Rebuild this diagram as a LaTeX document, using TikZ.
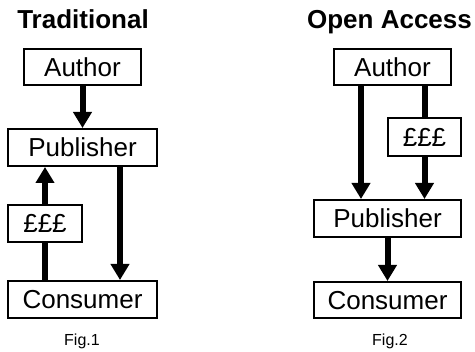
\documentclass[tikz,border=0pt]{standalone}
\usepackage{fontspec}
\setmainfont{Liberation Sans}
\usetikzlibrary{arrows.meta}
\tikzset{
  box/.style={draw=black, line width=2pt, inner sep=0pt, font=\fontsize{26}{30}\selectfont,
    text height=18.6pt, text depth=0pt},
  flow/.style={line width=6pt, -{Triangle[width=18pt,length=16pt]}},
  link/.style={line width=6pt},
  title/.style={font=\bfseries\fontsize{26}{30}\selectfont, anchor=base, inner sep=0pt},
  caption/.style={font=\fontsize{16}{19}\selectfont, anchor=base, inner sep=0pt}
}
\begin{document}
\begin{tikzpicture}[x=1pt,y=-1pt]
\useasboundingbox (0,0) rectangle (475,352);
% Traditional
\node[title] (t1) at (83,29) {Traditional};
\node[box, minimum width=117pt, minimum height=36pt] (auth1) at (82.5,67) {Author};
\node[box, minimum width=149pt, minimum height=37pt] (pub1) at (82.5,147.5) {Publisher};
\node[box, minimum width=74pt, minimum height=37pt] (pay1) at (45,223.5) {£££};
\node[box, minimum width=149pt, minimum height=37pt] (con1) at (82.5,299.5) {Consumer};
\node[caption] (f1) at (82,346) {Fig.1};
\draw[flow] (auth1.south) -- (pub1.north);
\draw[flow] (pay1.north) -- (pay1.north |- pub1.south);
\draw[link] (pay1.south |- con1.north) -- (pay1.south);
\draw[flow] ([xshift=37.5pt]pub1.south) -- ([xshift=37.5pt]con1.north);
% Open Access
\node[title] (t2) at (389.5,29) {Open Access};
\node[box, minimum width=117pt, minimum height=36pt] (auth2) at (392.5,67) {Author};
\node[box, minimum width=73pt, minimum height=38pt] (pay2) at (424.5,137) {£££};
\node[box, minimum width=147pt, minimum height=37pt] (pub2) at (387.5,218.5) {Publisher};
\node[box, minimum width=147pt, minimum height=36pt] (con2) at (387.5,300) {Consumer};
\node[caption] (f2) at (390,346) {Fig.2};
\draw[flow] ([xshift=-31.5pt]auth2.south) -- ([xshift=-26.5pt]pub2.north);
\draw[link] (pay2.north |- auth2.south) -- (pay2.north);
\draw[flow] (pay2.south) -- (pay2.south |- pub2.north);
\draw[flow] (pub2.south) -- (con2.north);
\end{tikzpicture}
\end{document}
